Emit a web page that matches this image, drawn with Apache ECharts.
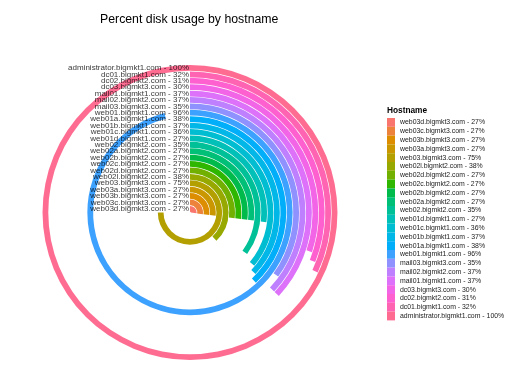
<!DOCTYPE html>
<html>
<head>
<meta charset="utf-8">
<script src="https://cdn.jsdelivr.net/npm/echarts@6/dist/echarts.min.js"></script>
<style>html,body{margin:0;padding:0;background:#fff;}#c{width:516px;height:380px;}</style>
</head>
<body>
<div id="c"></div>
<script>
// Hostnames, innermost ring first (also legend order, top to bottom)
const hostnames = [
  "web03d.bigmkt3.com", "web03c.bigmkt3.com", "web03b.bigmkt3.com", "web03a.bigmkt3.com",
  "web03.bigmkt3.com", "web02l.bigmkt2.com", "web02d.bigmkt2.com", "web02c.bigmkt2.com",
  "web02b.bigmkt2.com", "web02a.bigmkt2.com", "web02.bigmkt2.com", "web01d.bigmkt1.com",
  "web01c.bigmkt1.com", "web01b.bigmkt1.com", "web01a.bigmkt1.com", "web01.bigmkt1.com",
  "mail03.bigmkt3.com", "mail02.bigmkt2.com", "mail01.bigmkt1.com", "dc03.bigmkt3.com",
  "dc02.bigmkt2.com", "dc01.bigmkt1.com", "administrator.bigmkt1.com"
];
// Percent disk usage
const usage = [27, 27, 27, 27, 75, 38, 27, 27, 27, 27, 35, 27, 36, 37, 38, 96, 35, 37, 37, 30, 31, 32, 100];
const legendTitle = "Hostname";
const chartTitle = "Percent disk usage by hostname";

const labels = hostnames.map((h, i) => h + " - " + usage[i] + "%");

// ggplot2 default hue palette (HCL, c=100, l=65)
function hcl(h, c, l) {
  const hr = h * Math.PI / 180;
  const U = c * Math.cos(hr), V = c * Math.sin(hr);
  const Xn = 95.047, Yn = 100, Zn = 108.883;
  const den = Xn + 15 * Yn + 3 * Zn;
  const un = 4 * Xn / den, vn = 9 * Yn / den;
  const Y = Yn * (l > 8 ? Math.pow((l + 16) / 116, 3) : l / 903.3);
  const u = U / (13 * l) + un, v = V / (13 * l) + vn;
  const X = 9 * Y * u / (4 * v);
  const Z = -X / 3 - 5 * Y + 3 * Y / v;
  const x = X / 100, y = Y / 100, z = Z / 100;
  let r = 3.240479 * x - 1.537150 * y - 0.498535 * z;
  let g = -0.969256 * x + 1.875992 * y + 0.041556 * z;
  let b = 0.055648 * x - 0.204043 * y + 1.057311 * z;
  const gam = t => { t = t <= 0.0031308 ? 12.92 * t : 1.055 * Math.pow(t, 1 / 2.4) - 0.055; return Math.round(Math.max(0, Math.min(1, t)) * 255); };
  const hex = n => n.toString(16).padStart(2, "0");
  return "#" + hex(gam(r)) + hex(gam(g)) + hex(gam(b));
}
const n = hostnames.length;
const colors = hostnames.map((_, i) => hcl(15 + i * 360 / n, 100, 65));

const FONT = "Liberation Sans, Arial, sans-serif";

const barSeries = hostnames.map((h, i) => ({
  name: labels[i],
  type: "bar",
  coordinateSystem: "polar",
  barGap: "-100%",
  barCategoryGap: "10%",
  data: hostnames.map((_, j) => (j === i ? usage[i] : "-")),
  itemStyle: { color: colors[i] },
  silent: true,
  z: 2
}));

const labelSeries = {
  type: "scatter",
  coordinateSystem: "polar",
  symbolSize: 0,
  silent: true,
  z: 5,
  data: hostnames.map((h, i) => [i, 0]),
  label: {
    show: true,
    position: "left",
    distance: 1,
    fontSize: 8,
    fontFamily: FONT,
    color: "#000",
    formatter: p => labels[p.dataIndex]
  }
};

const chart = echarts.init(document.getElementById("c"), null, { renderer: "canvas" });
chart.setOption({
  animation: false,
  backgroundColor: "#fff",
  title: [
    { text: chartTitle, left: 100, top: 14, padding: 0, textStyle: { fontSize: 12.3, fontWeight: "normal", color: "#000", fontFamily: FONT } },
    { text: legendTitle, left: 387, top: 107, padding: 0, textStyle: { fontSize: 8.3, fontWeight: "bold", color: "#000", fontFamily: FONT } }
  ],
  legend: {
    orient: "vertical",
    left: 387,
    top: 118,
    padding: 0,
    itemGap: 0,
    itemWidth: 8,
    itemHeight: 8.8,
    icon: "rect",
    data: labels,
    selectedMode: false,
    textStyle: { fontSize: 6.9, lineHeight: 8.8, color: "#1a1a1a", fontFamily: FONT }
  },
  polar: { center: [190, 212.5], radius: [0.5, 147.8] },
  angleAxis: {
    type: "value", min: 0, max: 100, startAngle: 90, clockwise: true,
    axisLine: { show: false }, axisTick: { show: false }, axisLabel: { show: false }, splitLine: { show: false }
  },
  radiusAxis: {
    type: "category", data: hostnames,
    axisLine: { show: false }, axisTick: { show: false }, axisLabel: { show: false }, splitLine: { show: false }
  },
  series: barSeries.concat([labelSeries])
});
</script>
</body>
</html>
